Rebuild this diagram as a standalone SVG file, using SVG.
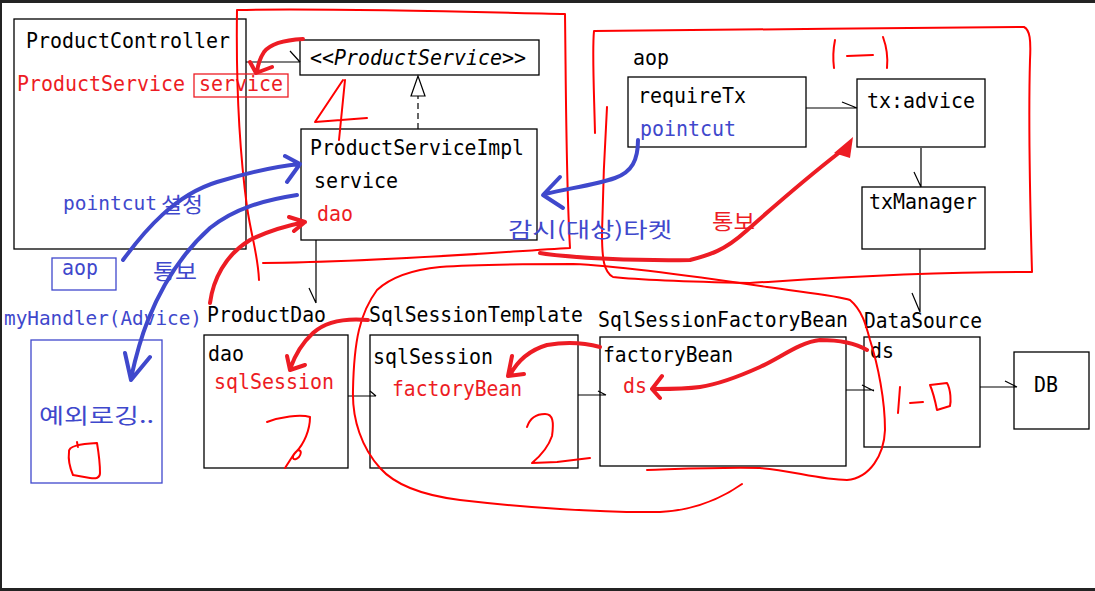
<svg xmlns="http://www.w3.org/2000/svg" width="1095" height="591" viewBox="0 0 1095 591">
<style>
text{font-family:"DejaVu Sans Mono","Liberation Mono","Noto Sans CJK KR",monospace;font-size:22px;fill:#000}
.k{font-family:"Noto Sans CJK KR","DejaVu Sans Mono",sans-serif;font-size:21px}
.red{fill:#ed1c24}
.blu{fill:#3f48cc}
.box{fill:#fff;stroke:#000;stroke-width:1.3}
.bbox{fill:none;stroke:#3f48cc;stroke-width:1.3}
.rbox{fill:none;stroke:#ed1c24;stroke-width:1.3}
.ln{fill:none;stroke:#000;stroke-width:1.2}
.dash{fill:none;stroke:#000;stroke-width:1.2;stroke-dasharray:6 4}
.rs{fill:none;stroke:#ff0000;stroke-width:2;stroke-linecap:round;stroke-linejoin:round}
.rt{fill:none;stroke:#ed1c24;stroke-width:4;stroke-linecap:round;stroke-linejoin:round}
.bt{fill:none;stroke:#3f48cc;stroke-width:4;stroke-linecap:round;stroke-linejoin:round}
</style>
<rect x="0" y="0" width="1095" height="591" fill="#fff"/>
<rect x="0" y="0" width="1095" height="3" fill="#232323"/>
<rect x="0" y="0" width="2" height="591" fill="#232323"/>
<rect x="0" y="588" width="1095" height="3" fill="#232323"/>

<g id="ProductController">
<rect class="box" x="14" y="19" width="232" height="230"/>
<text x="26" y="48" textLength="204" lengthAdjust="spacingAndGlyphs">ProductController</text>
<text class="red" x="17" y="91" textLength="168" lengthAdjust="spacingAndGlyphs">ProductService</text>
<rect class="rbox" x="194" y="74" width="94" height="23"/>
<text class="red" x="199" y="91" textLength="84" lengthAdjust="spacingAndGlyphs">service</text>
<text class="blu" x="63" y="210" style="font-size:19.5px" textLength="94" lengthAdjust="spacingAndGlyphs">pointcut</text>
<text class="k blu" x="161" y="212" textLength="42" lengthAdjust="spacingAndGlyphs">설정</text>
</g>

<g id="ProductService">
<rect class="box" x="300" y="40" width="239" height="35"/>
<text x="310" y="65" font-style="italic" textLength="216" lengthAdjust="spacingAndGlyphs">&lt;&lt;ProductService&gt;&gt;</text>
</g>

<g id="ProductServiceImpl">
<rect class="box" x="301" y="129" width="236" height="111"/>
<text x="310" y="155" textLength="214" lengthAdjust="spacingAndGlyphs">ProductServiceImpl</text>
<text x="314" y="188" textLength="84" lengthAdjust="spacingAndGlyphs">service</text>
<text class="red" x="317" y="221" textLength="36" lengthAdjust="spacingAndGlyphs">dao</text>
</g>

<g id="aop">
<text x="633" y="65" textLength="36" lengthAdjust="spacingAndGlyphs">aop</text>
</g>

<g id="requireTx">
<rect class="box" x="628" y="77" width="178" height="70"/>
<text x="638" y="103" textLength="108" lengthAdjust="spacingAndGlyphs">requireTx</text>
<text class="blu" x="640" y="136" textLength="96" lengthAdjust="spacingAndGlyphs">pointcut</text>
</g>

<g id="txAdvice">
<rect class="box" x="857" y="79" width="128" height="68"/>
<text x="867" y="108" textLength="108" lengthAdjust="spacingAndGlyphs">tx:advice</text>
</g>

<g id="txManager">
<rect class="box" x="862" y="187" width="123" height="62"/>
<text x="869" y="209" textLength="108" lengthAdjust="spacingAndGlyphs">txManager</text>
</g>

<g id="aopLabel">
<rect class="bbox" x="52" y="258" width="64" height="32"/>
<text class="blu" x="62" y="275" textLength="36" lengthAdjust="spacingAndGlyphs">aop</text>
</g>

<g id="myHandler">
<text class="blu" x="4" y="325" style="font-size:19.5px" textLength="198" lengthAdjust="spacingAndGlyphs">myHandler(Advice)</text>
<rect class="bbox" x="31" y="340" width="131" height="143"/>
<text class="k blu" x="39" y="423" textLength="115" lengthAdjust="spacingAndGlyphs">예외로깅..</text>
</g>

<g id="ProductDao">
<text x="207" y="322" textLength="119" lengthAdjust="spacingAndGlyphs">ProductDao</text>
<rect class="box" x="204" y="335" width="144" height="133"/>
<text x="208" y="361" textLength="36" lengthAdjust="spacingAndGlyphs">dao</text>
<text class="red" x="214" y="389" textLength="120" lengthAdjust="spacingAndGlyphs">sqlSession</text>
</g>

<g id="SqlSessionTemplate">
<text x="369" y="322" textLength="214" lengthAdjust="spacingAndGlyphs">SqlSessionTemplate</text>
<rect class="box" x="370" y="335" width="208" height="133"/>
<text x="373" y="364" textLength="120" lengthAdjust="spacingAndGlyphs">sqlSession</text>
<text class="red" x="392" y="396" textLength="130" lengthAdjust="spacingAndGlyphs">factoryBean</text>
</g>

<g id="SqlSessionFactoryBean">
<text x="598" y="327" textLength="250" lengthAdjust="spacingAndGlyphs">SqlSessionFactoryBean</text>
<rect class="box" x="600" y="337" width="246" height="129"/>
<text x="603" y="362" textLength="130" lengthAdjust="spacingAndGlyphs">factoryBean</text>
<text class="red" x="623" y="393" textLength="24" lengthAdjust="spacingAndGlyphs">ds</text>
</g>

<g id="DataSource">
<text x="864" y="328" textLength="118" lengthAdjust="spacingAndGlyphs">DataSource</text>
<rect class="box" x="864" y="337" width="116" height="110"/>
<text x="870" y="358" textLength="24" lengthAdjust="spacingAndGlyphs">ds</text>
</g>

<g id="DB">
<rect class="box" x="1014" y="352" width="75" height="77"/>
<text x="1034" y="392" textLength="24" lengthAdjust="spacingAndGlyphs">DB</text>
</g>

<g id="connectors">
<path class="ln" d="M246,62 L300,62 M290,51 L300,62"/>
<path class="dash" d="M418,129 L418,96"/>
<polygon points="418,76 411,96 425,96" fill="#fff" stroke="#000" stroke-width="1.2"/>
<path class="ln" d="M316,240 L316,303 M309,288 L316,303"/>
<path class="ln" d="M348,396 L376,396 M370,391 L376,396"/>
<path class="ln" d="M578,395 L606,395 M598,391 L606,395"/>
<path class="ln" d="M846,390 L874,390 M862,385 L874,391"/>
<path class="ln" d="M980,387 L1017,387 M1005,381 L1017,387"/>
<path class="ln" d="M806,108 L857,108 M842,102 L857,108"/>
<path class="ln" d="M921,148 L921,187 M914,172 L921,187"/>
<path class="ln" d="M920,249 L920,312 M912,293 L920,312"/>
</g>

<g id="annotations">
<path class="rs" d="M259,280 C258,255 252,240 247,207 C238,140 236,80 237,10 C330,8 480,12 565,14 C566,90 566,180 570,248 C500,252 380,262 263,263"/>
<path class="rs" d="M595,133 C594,90 592,50 594,31 C700,30 900,28 1024,27 C1030,30 1031,40 1030,60 C1028,130 1030,200 1032,272 C900,272 800,280 750,283 C700,282 640,280 613,277 C604,272 602,260 602,233 C603,180 605,140 607,107"/>
<path class="rs" d="M742,484 C725,496 700,510 660,512 C600,513 520,507 460,500 C420,495 395,485 380,468 C362,448 352,420 353,390 C354,340 360,313 377,290 C390,278 410,270 440,267 C480,264 540,264 573,264 C620,266 700,277 767,287 C810,293 840,296 850,300 C862,310 866,325 870,340 C878,365 885,400 885,430 C884,455 870,478 847,480 C820,480 790,470 760,468 C720,467 680,469 647,470"/>
<path class="rs" d="M343,80 L315,122 L367,118 M345,80 C343,100 341,120 339,140"/>
<path class="rs" d="M835,40 C833,50 833,60 834,68 M847,56 L873,55 M883,37 C887,48 888,58 887,68"/>
<path class="rs" d="M267,422 C280,417 300,414 310,417 C310,430 304,444 296,452 C290,458 294,462 299,457 C303,451 299,447 294,454 L285,468"/>
<path class="rs" d="M527,427 C530,418 537,414 545,414 C553,414 554,422 552,436 C548,448 538,458 532,463 L557,462 L590,458"/>
<path class="rs" d="M900,387 L898,413 M910,403 L923,402 M930,385 L947,383 C951,390 951,402 950,406 L937,410 C935,400 933,392 930,385"/>
<path class="rs" d="M69,452 C68,446 80,444 97,443 C99,455 100,465 100,473 C100,478 96,479 90,478 L73,475 C70,468 68,460 69,452 M77,442 L78,447"/>
<path class="rt" d="M303,39 C285,40 270,44 264,52 C260,58 258,64 257,72 M250,62 L256,73 L272,67"/>
<path class="rt" d="M210,303 C213,280 225,255 250,240 C270,230 290,225 305,222 M289,217 L305,222 L294,231"/>
<path class="rt" d="M368,320 C345,318 325,322 313,333 C302,343 295,355 290,369 M287,356 L290,370 L305,365"/>
<path class="rt" d="M600,347 C585,343 565,342 547,345 C530,350 518,360 510,375 M512,356 L508,376 L524,374"/>
<path class="rt" d="M867,350 C855,343 840,340 820,340 C800,342 780,358 760,367 C740,376 720,384 700,387 C685,389 670,389 656,389 M662,376 L652,389 L660,398"/>
<path class="rt" d="M540,253 C570,258 640,261 690,260 C710,255 725,250 745,232 C770,210 800,183 840,152"/>
<polygon points="853,137 834,153 850,158" fill="#ed1c24"/>
<path class="bt" d="M638,140 C638,160 632,172 615,178 C595,185 570,188 545,194 M560,177 L543,195 L563,208"/>
<path class="bt" d="M123,260 C145,230 175,195 217,182 C250,172 280,166 300,164 M285,156 L300,164 L287,182"/>
<path class="bt" d="M297,195 C265,200 235,208 210,228 C180,255 160,290 148,320 C140,340 135,360 131,378 M125,353 L131,380 L150,357"/>
<text class="k blu" x="508" y="237" textLength="164" lengthAdjust="spacingAndGlyphs">감시(대상)타켓</text>
<text class="k red" x="712" y="229" textLength="43" lengthAdjust="spacingAndGlyphs">통보</text>
<text class="k blu" x="153" y="279" textLength="44" lengthAdjust="spacingAndGlyphs">통보</text>
</g>
</svg>
